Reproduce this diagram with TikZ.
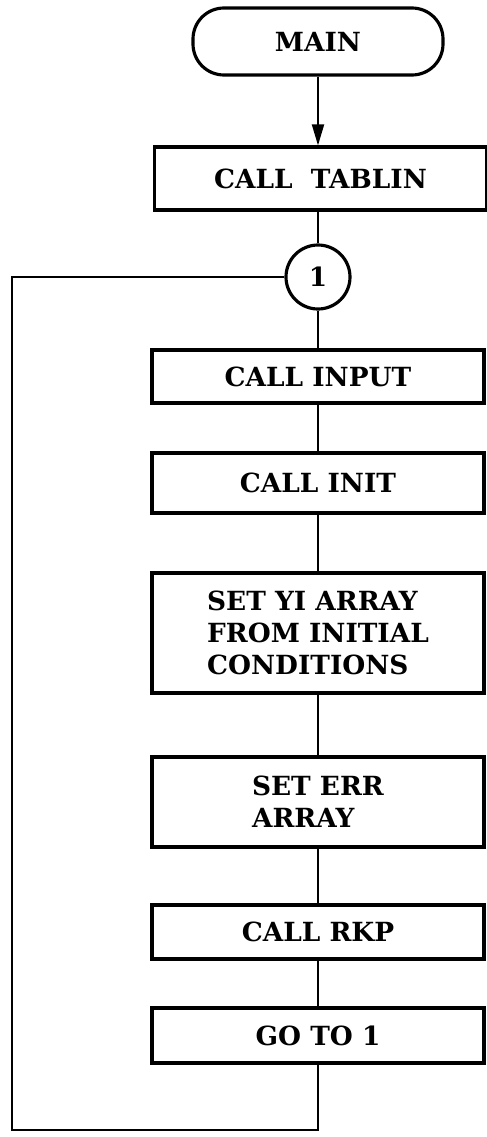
\documentclass[tikz,border=0pt]{standalone}
\usepackage{fontspec}
\setmainfont{DejaVu Serif}
\usetikzlibrary{arrows.meta}
\tikzset{
  flowline/.style={line width=1.1pt},
  procbox/.style={draw, line width=1.8pt, rectangle, minimum width=6.64cm,
                  inner sep=2pt, align=left, font=\fontsize{15}{18.2}\selectfont\bfseries},
  termbox/.style={draw, line width=1.8pt, rectangle, rounded corners=0.62cm,
                  minimum width=5cm, minimum height=1.34cm, font=\fontsize{15}{18.2}\selectfont\bfseries},
  connbox/.style={draw, line width=1.8pt, circle, minimum size=1.28cm, inner sep=0pt,
                  font=\fontsize{15}{18.2}\selectfont\bfseries}
}
\begin{document}
\begin{tikzpicture}
\useasboundingbox (0,0) rectangle (9.72,-22.74);

% Terminal and entry
\node[termbox] (main) at (6.36,-0.83) {MAIN};
\node[procbox, minimum height=1.26cm] (tablin) at (6.41,-3.57) {CALL\ \ TABLIN};
\node[connbox] (c1) at (6.36,-5.54) {1};

% Boxes of the loop
\node[procbox, minimum height=1.06cm] (input) at (6.36,-7.53) {CALL INPUT};
\node[procbox, minimum height=1.2cm] (init) at (6.36,-9.66) {CALL INIT};
\node[procbox, minimum height=2.4cm] (setyi) at (6.36,-12.66) {SET YI ARRAY\\FROM INITIAL\\CONDITIONS};
\node[procbox, minimum height=1.8cm] (seterr) at (6.36,-16.04) {SET ERR\\ARRAY};
\node[procbox, minimum height=1.08cm] (rkp) at (6.36,-18.64) {CALL RKP};
\node[procbox, minimum height=1.1cm] (goto) at (6.36,-20.71) {GO TO 1};

\coordinate (lb) at (0.24,-22.6);

% Connectors
\draw[flowline, -{Triangle[length=0.42cm, width=0.24cm]}] (main) -- (main |- tablin.north);
\draw[flowline] (main |- tablin.south) -- (c1);
\foreach \a/\b in {c1/input, input/init, init/setyi, setyi/seterr, seterr/rkp, rkp/goto} {
  \draw[flowline] (\a) -- (\b);
}
\draw[flowline] (goto) |- (lb) |- (c1.west);
\end{tikzpicture}
\end{document}
